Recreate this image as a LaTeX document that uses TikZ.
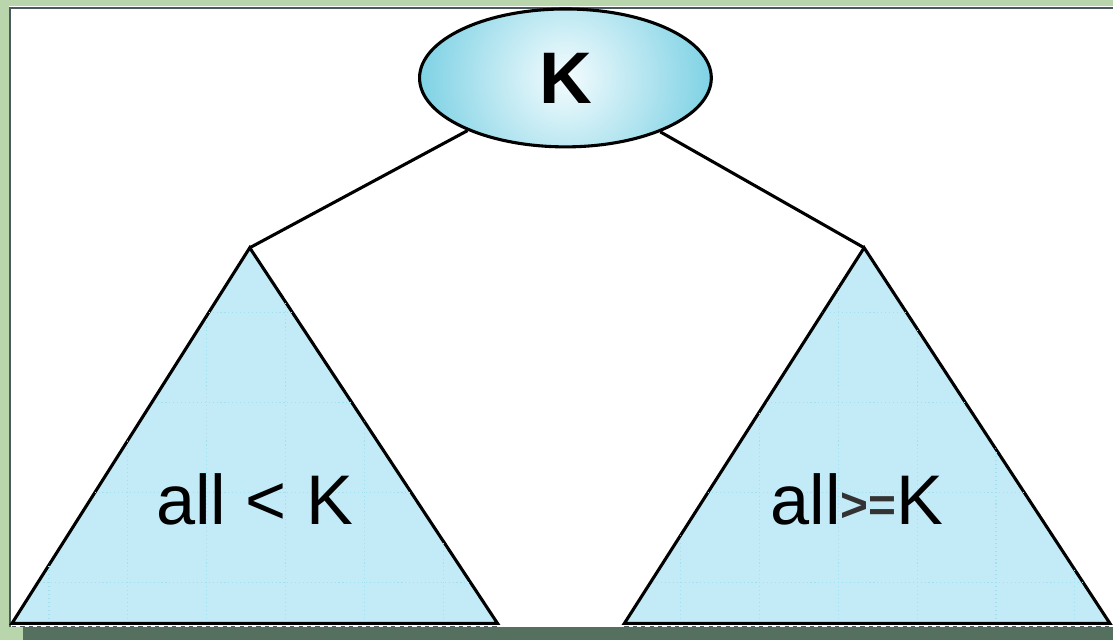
\documentclass[tikz,border=0pt]{standalone}
\usepackage{fontspec}
\setmainfont{Liberation Sans}
\usetikzlibrary{shapes.geometric, positioning, calc}
\definecolor{bgreen}{HTML}{B9D5AC}
\definecolor{kcyan}{HTML}{66C9DF}
\definecolor{kpale}{HTML}{F4FCFE}
\definecolor{treefill}{HTML}{C3EBF7}
\definecolor{framec}{HTML}{4B5A5E}
\definecolor{shadowc}{HTML}{56705F}
\definecolor{gridc}{HTML}{A2E0EE}

\begin{document}
\begin{tikzpicture}[x=0.025cm, y=-0.025cm,
  keynode/.style={ellipse, draw, line width=2.2pt, minimum width=7.3cm, minimum height=3.45cm,
                  inner sep=0pt, fill=kcyan,
                  path picture={\shade[inner color=kpale, outer color=kcyan]
                                (path picture bounding box.center) circle (4.4cm);},
                  font=\fontsize{52}{60}\selectfont\bfseries},
  subtree/.style={draw, line width=2.2pt, fill=treefill, line join=miter},
  treetext/.style={font=\fontsize{50}{60}\selectfont, inner sep=0pt},
  edge/.style={line width=2.2pt}]

  % backdrop and slide panel
  \fill[bgreen] (0,0) rectangle (1114,641);
  \fill[white] (9,6) rectangle (1114,628);
  \fill[shadowc] (23,628) rectangle (1114,641);
  \draw[framec, line width=1.6pt] (10,628) -- (10,8) -- (1114,8);

  % the two subtrees
  \coordinate (la) at (250,248);
  \coordinate (ra) at (865,248);
  \draw[subtree] (la) -- (12,624) -- (498,624) -- cycle;
  \draw[subtree] (ra) -- (625,624) -- (1111,624) -- cycle;
  \begin{scope}
    \clip (la) -- (12,624) -- (498,624) -- cycle (ra) -- (625,624) -- (1111,624) -- cycle;
    \foreach \gx in {49,128,...,1076}
      \draw[gridc, dotted, line width=0.8pt] (\gx,248) -- (\gx,621);
    \foreach \gy in {313,403,493,583}
      \draw[gridc, dotted, line width=0.8pt] (12,\gy) -- (1111,\gy);
  \end{scope}
  \draw[framec, line width=1.2pt, dashed] (12,627) -- (498,627);
  \draw[framec, line width=1.2pt, dashed] (625,627) -- (1111,627);

  % root key
  \node[keynode] (k) at (566,78) {K};
  \draw[edge] (k) -- (la);
  \draw[edge] (k) -- (ra);

  \node[treetext] (lt) at (255,500) {all < K};
  \node[treetext] (rt) at (858,500)
    {all{\fontsize{34}{40}\selectfont\bfseries\color{black!80}\raisebox{2pt}{>=}}K};
\end{tikzpicture}
\end{document}
